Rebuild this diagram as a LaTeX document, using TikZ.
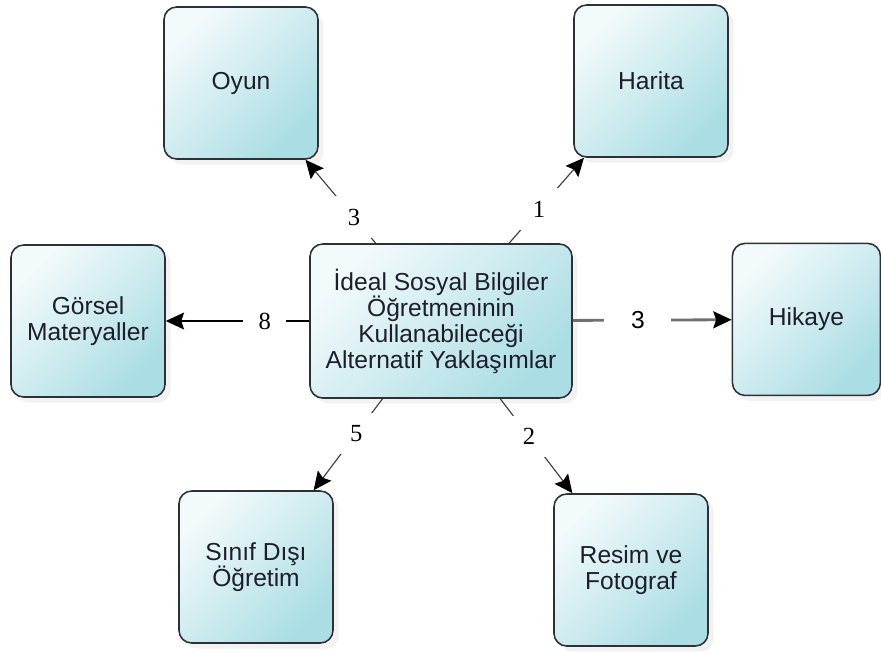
\documentclass[tikz,border=0pt]{standalone}
\usepackage{fontspec}
\setmainfont{Liberation Serif}
\setsansfont{Liberation Sans}
\usetikzlibrary{arrows.meta,shadows}

\definecolor{boxlight}{RGB}{243,250,251}
\definecolor{boxdark}{RGB}{170,221,228}
\definecolor{boxline}{RGB}{45,48,52}
\definecolor{boxtext}{RGB}{30,30,42}
\definecolor{linkgray}{RGB}{60,60,60}
\definecolor{storygray}{RGB}{112,112,112}

\begin{document}
\begin{tikzpicture}[
  approach/.style={draw=boxline,line width=1.1pt,rounded corners=9pt,
    top color=boxlight,bottom color=boxdark,shading angle=45,
    align=center,text=boxtext,font=\sffamily\fontsize{17.5}{18.5}\selectfont,
    minimum width=3.85cm,minimum height=3.8cm,inner sep=0pt,
    drop shadow={opacity=0.1,shadow xshift=4pt,shadow yshift=-4pt}},
  link/.style={draw=linkgray,line width=0.8pt,
    -{Stealth[length=13pt,width=12pt,inset=2pt,color=black,fill=black]}},
  count/.style={fill=white,font=\fontsize{17.5}{18.5}\selectfont,inner sep=9pt}
]

\useasboundingbox (0,0) rectangle (22.025,-16.325);

% center
\node[approach,minimum width=6.55cm,minimum height=3.85cm] (IdealTeacher) at (11.025,-8.025)
  {İdeal Sosyal Bilgiler\\Öğretmeninin\\Kullanabileceği\\Alternatif Yaklaşımlar};

% top row
\node[approach] (ToolGame) at (6.025,-2.075) {Oyun};
\node[approach] (ToolMap) at (16.275,-2.025) {Harita};

% middle row
\node[approach] (ToolVisual) at (2.2,-8.025) {Görsel\\Materyaller};
\node[approach,minimum width=3.7cm] (ToolStory) at (20.16,-7.985) {Hikaye};

% bottom row
\node[approach] (ToolOutdoor) at (6.4,-14.175) {Sınıf Dışı\\Öğretim};
\node[approach] (ToolPicture) at (15.775,-14.25) {Resim ve\\Fotograf};


\draw[link] (IdealTeacher) -- node[count,pos=0.31] {3} (ToolGame);
\draw[link] (IdealTeacher) -- node[count,pos=0.4] {1} (ToolMap);
\draw[link,draw=black,line width=1.1pt] (IdealTeacher) -- node[count,pos=0.31,inner xsep=11pt] {8} (ToolVisual);
\draw[link,draw=storygray,line width=2pt] (IdealTeacher) -- node[count,pos=0.41,inner xsep=19pt,font=\sffamily\fontsize{17.5}{18.5}\selectfont] {3} (ToolStory);
\draw[link] (IdealTeacher) -- node[count,pos=0.38] {5} (ToolOutdoor);
\draw[link] (IdealTeacher) -- node[count,pos=0.4] {2} (ToolPicture);

\end{tikzpicture}
\end{document}
